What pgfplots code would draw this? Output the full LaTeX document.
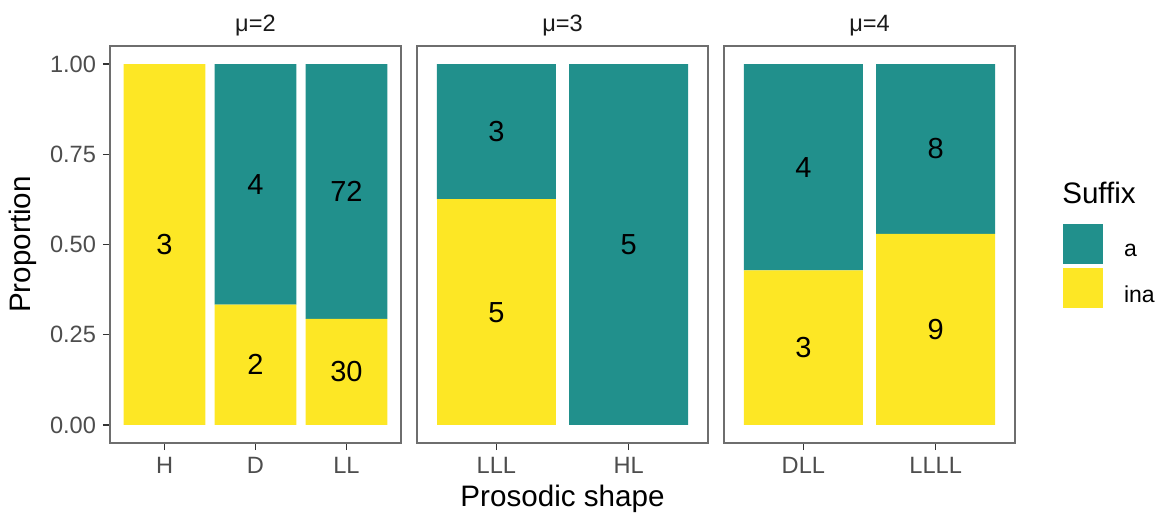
\documentclass[border=0pt]{standalone}
\usepackage{fontspec}
\setmainfont{Liberation Sans}
\usepackage{pgfplots}
\pgfplotsset{compat=1.18}
\definecolor{vteal}{HTML}{21908C}
\definecolor{vyellow}{HTML}{FDE725}
\definecolor{grey20}{HTML}{333333}
\definecolor{grey30}{HTML}{4D4D4D}
\definecolor{grey10}{HTML}{1A1A1A}
\definecolor{border}{HTML}{6E6E6E}
\pgfplotsset{
  facet/.style={
    scale only axis, width=145.5pt, height=198.5pt,
    anchor=south west,
    ybar stacked, bar width=0.9,
    ymin=-0.05, ymax=1.05,
    axis line style={border, line width=0.55pt},
    tick style={grey20, line width=0.6pt},
    tick align=outside, major tick length=3.5pt,
    xtick=data, xtick pos=bottom, ytick pos=left,
    ticklabel style={font=\fontsize{11.8}{13}\selectfont, text=grey30},
    title style={font=\fontsize{11.8}{13}\selectfont, text=grey10, at={(0.5,1)}, anchor=base, yshift=1pt},
    clip=false,
    nodes near coords, point meta=explicit symbolic,
    every node near coord/.style={anchor=center, font=\fontsize{14.5}{16}\selectfont, text=black},
  },
}
\begin{document}
\begin{tikzpicture}
\useasboundingbox (0,0) rectangle (578pt,257pt);
% Panel 1
\begin{axis}[facet, at={(55pt,35.5pt)}, xmin=0.4, xmax=3.6,
  xticklabels={H,D,LL},
  ytick={0,0.25,0.5,0.75,1}, yticklabels={0.00,0.25,0.50,0.75,1.00},
  title={μ=2},
  ylabel={Proportion},
  ylabel style={at={(axis description cs:-0.299,0.5)}, anchor=center, font=\fontsize{14.8}{16}\selectfont},
]
\addplot[fill=vyellow, draw=none] coordinates {(1,1) [3] (2,0.3333) [2] (3,0.2941) [30]};
\addplot[fill=vteal, draw=none] coordinates {(1,0) [] (2,0.6667) [4] (3,0.7059) [72]};
\end{axis}
% Panel 2
\begin{axis}[facet, at={(208.5pt,35.5pt)}, xmin=0.4, xmax=2.6,
  xticklabels={LLL,HL}, ytick=\empty,
  title={μ=3},
  xlabel={Prosodic shape},
  xlabel style={at={(axis description cs:0.5,0)}, anchor=center, yshift=-28pt, font=\fontsize{14.8}{16}\selectfont},
]
\addplot[fill=vyellow, draw=none] coordinates {(1,0.625) [5] (2,0) []};
\addplot[fill=vteal, draw=none] coordinates {(1,0.375) [3] (2,1) [5]};
\end{axis}
% Panel 3
\begin{axis}[facet, at={(362pt,35.5pt)}, xmin=0.4, xmax=2.6,
  xticklabels={DLL,LLLL}, ytick=\empty,
  title={μ=4},
  reverse legend,
  legend style={at={(axis description cs:1.165,0.552)}, anchor=north west, draw=none, fill=none,
    inner sep=0pt, outer sep=0pt, row sep=2pt, column sep=10.5pt, font=\fontsize{11.5}{13}\selectfont,
    nodes={inner sep=0pt}, cells={anchor=west}},
  legend image code/.code={\fill[#1, draw=none] (0pt,-6pt) rectangle (20pt,14pt);},
]
\addplot[fill=vyellow, draw=none] coordinates {(1,0.4286) [3] (2,0.5294) [9]};
\addlegendentry{ina}
\addplot[fill=vteal, draw=none] coordinates {(1,0.5714) [4] (2,0.4706) [8]};
\addlegendentry{a}
\node[anchor=west, inner sep=0pt, font=\fontsize{14.8}{16}\selectfont] at (axis description cs:1.161,0.63) {Suffix};
\end{axis}
\end{tikzpicture}
\end{document}
